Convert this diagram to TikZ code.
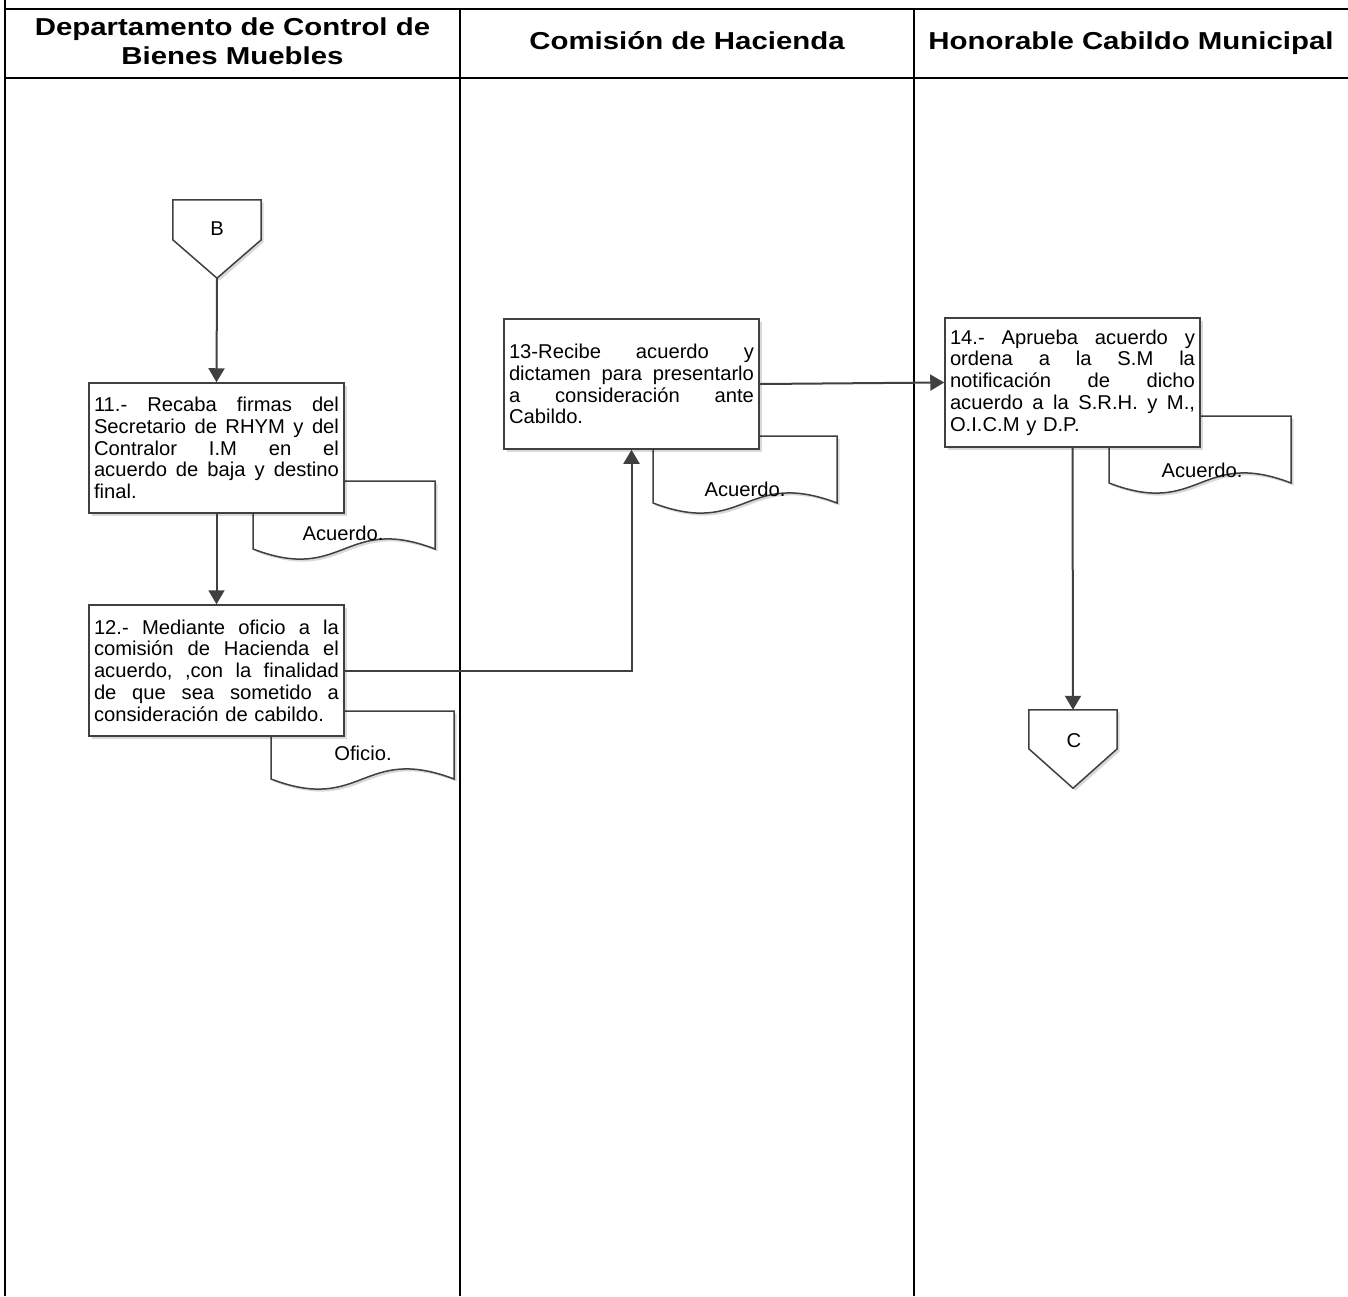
\documentclass[tikz,border=0pt]{standalone}
\usepackage{fontspec}
\setmainfont{Liberation Sans}
\newfontfamily\boxfont[FakeStretch=1.01]{Liberation Sans}
\newfontfamily\headfont[FakeStretch=1.2]{Liberation Sans}
\usetikzlibrary{arrows.meta,shadows,calc}
\definecolor{ink}{HTML}{404040}
\newcommand\jl[1]{\makebox[245pt][s]{\frenchspacing\spaceskip=0.28em plus 1fil\relax #1}}
\newcommand\docpath[4]{%
  \draw[docshape] (#1,#2) -- (#3,#2) -- (#3,#4)
    .. controls ({(#1+#3)/2},{#4-35}) and ({(#1+#3)/2},{#4+35}) .. (#1,#4) -- cycle;}
\tikzset{
  lane/.style={line width=2pt, draw=black},
  softshadow/.style={drop shadow={shadow xshift=2.5pt, shadow yshift=-2.5pt, opacity=0.15, fill=black}},
  procbox/.style={draw=ink, line width=1.5pt, fill=white, minimum width=255pt,
    text width=245pt, inner xsep=5pt, inner ysep=0pt, align=left,
    font=\boxfont\fontsize{20}{21.7}\selectfont, softshadow},
  conn/.style={draw=ink, line width=2pt, -{Triangle[length=14pt,width=16pt]}},
  docshape/.style={draw=ink, line width=1.5pt, fill=white, softshadow},
  pent/.style={draw=ink, line width=1.5pt, fill=white, softshadow},
  doclabel/.style={font=\boxfont\fontsize{20}{21.7}\selectfont, inner sep=0pt},
  head/.style={font=\headfont\bfseries\fontsize{24.5}{29}\selectfont, align=center, inner sep=0pt, anchor=base},
  offpage/.style={minimum width=88pt, minimum height=78pt, inner sep=0pt},
}
\begin{document}
\begin{tikzpicture}[x=1pt,y=-1pt]
\useasboundingbox (0,0) rectangle (1348,1296);
% swimlane frame
\draw[lane] (5,0) -- (5,1296);
\draw[lane] (5,9) -- (1348,9);
\draw[lane] (5,78) -- (1348,78);
\draw[lane] (460,9) -- (460,1296);
\draw[lane] (913.5,9) -- (913.5,1296);
% headers
\node[head] (h1) at (232.5,64) {Departamento de Control de\\Bienes Muebles};
\node[head] (h2) at (687,49) {Comisión de Hacienda};
\node[head] (h3) at (1131,49) {Honorable Cabildo Municipal};
% documents (behind boxes)
\docpath{253}{481}{435}{549}
\docpath{271}{711}{454}{779}
\docpath{653}{436}{837}{503}
\docpath{1109}{416}{1291}{483}
\node[doclabel] (t11) at (343,533) {Acuerdo.};
\node[doclabel] (t12) at (363,753) {Oficio.};
\node[doclabel] (t13) at (745,489) {Acuerdo.};
\node[doclabel] (t14) at (1202,470) {Acuerdo.};
% off-page connectors
\node[offpage] (B) at (217,239) {};
\draw[pent] (B.north west) -- (B.north east) -- ($(B.north east)+(0,40)$) -- (B.south) -- ($(B.north west)+(0,40)$) -- cycle;
\node[doclabel] (Bl) at (217,229) {B};
\node[offpage] (C) at (1073,749) {};
\draw[pent] (C.north west) -- (C.north east) -- ($(C.north east)+(0,39)$) -- (C.south) -- ($(C.north west)+(0,39)$) -- cycle;
\node[doclabel] (Cl) at (1074,741) {C};
% process boxes
\node[procbox, minimum height=130pt] (n11) at (216.5,448) {\jl{11.- Recaba firmas del}\\\jl{Secretario de RHYM y del}\\\jl{Contralor I.M en el}\\\jl{acuerdo de baja y destino}\\final.};
\node[procbox, minimum height=131pt] (n12) at (216.5,670.5) {\jl{12.- Mediante oficio a la}\\\jl{comisión de Hacienda el}\\\jl{acuerdo, ,con la finalidad}\\\jl{de que sea sometido a}\\consideración de cabildo.};
\node[procbox, minimum height=130pt] (n13) at (631.5,384) {\jl{13-Recibe acuerdo y}\\\jl{dictamen para presentarlo}\\\jl{a consideración ante}\\Cabildo.};
\node[procbox, minimum height=129pt] (n14) at (1072.5,382.5) {\jl{14.- Aprueba acuerdo y}\\\jl{ordena a la S.M la}\\\jl{notificación de dicho}\\\jl{acuerdo a la S.R.H. y M.,}\\O.I.C.M y D.P.};
% connectors
\draw[conn] (B.south) -- (n11.north);
\draw[conn] (n11.south) -- (n12.north);
\draw[conn] (n12.east) -| (n13.south);
\draw[conn] (n13.east) -- (n14.west);
\draw[conn] (n14.south) -- (C.north);
\end{tikzpicture}
\end{document}
